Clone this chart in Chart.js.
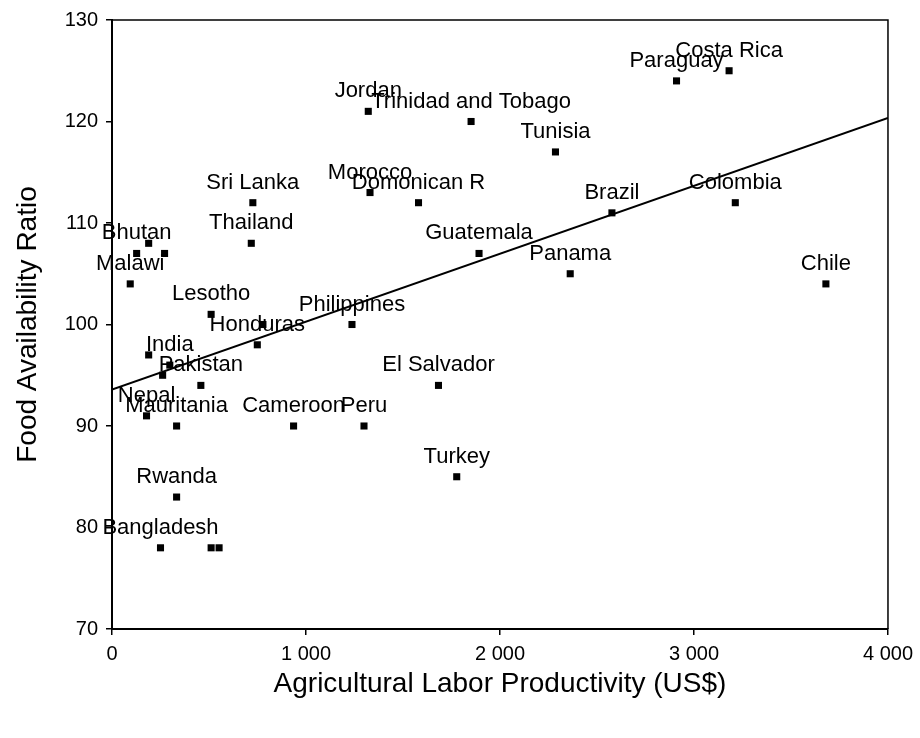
<!DOCTYPE html>
<html>
<head>
<meta charset="utf-8">
<script src="https://cdn.jsdelivr.net/npm/chart.js@4.4.1/dist/chart.umd.min.js"></script>
<style>
  html, body { margin: 0; padding: 0; background: #fff; }
  #wrap { width: 920px; height: 738px; position: relative; }
</style>
</head>
<body>
<div id="wrap"><canvas id="scatterChart"></canvas></div>
<script>
// country labels ('' = unlabelled point)
const countries = [
    'Bhutan', '', '', 'Malawi', 'Sri Lanka', 'Thailand', 'Lesotho', '', 'Honduras',
    'Philippines', '', 'India', '', 'Pakistan', 'Nepal', 'Mauritania', 'Cameroon',
    'Peru', 'Rwanda', 'Bangladesh', '', '', 'Jordan', 'Trinidad and Tobago',
    'Tunisia', 'Morocco', 'Domonican R', 'Guatemala', 'Brazil', 'Panama',
    'El Salvador', 'Turkey', 'Paraguay', 'Costa Rica', 'Colombia', 'Chile'
];
const productivity = [
    127, 189, 271, 94, 726, 718, 511, 778, 749,
    1237, 189, 298, 261, 458, 178, 333, 936,
    1299, 333, 250, 511, 552, 1321, 1851,
    2286, 1330, 1580, 1892, 2577, 2362,
    1683, 1777, 2910, 3181, 3213, 3680
];
const foodRatio = [
    107, 108, 107, 104, 112, 108, 101, 100, 98,
    100, 97, 96, 95, 94, 91, 90, 90,
    90, 83, 78, 78, 78, 121, 120,
    117, 113, 112, 107, 111, 105,
    94, 85, 124, 125, 112, 104
];
// linear trend line end points
const trendX = [0, 4000];
const trendY = [93.6, 120.35];

const xTicks = [0, 1000, 2000, 3000, 4000];
const yTicks = [70, 80, 90, 100, 110, 120, 130];

const FONT = '"Liberation Sans", Arial, sans-serif';

const pointLabels = {
    id: 'pointLabels',
    afterDatasetsDraw(chart) {
        const ctx = chart.ctx;
        const meta = chart.getDatasetMeta(0);
        ctx.save();
        ctx.font = '22px ' + FONT;
        ctx.fillStyle = '#000';
        ctx.textAlign = 'center';
        ctx.textBaseline = 'alphabetic';
        meta.data.forEach((pt, i) => {
            if (countries[i]) ctx.fillText(countries[i], pt.x, pt.y - 14);
        });
        ctx.restore();
    }
};

const frame = {
    id: 'frame',
    afterDraw(chart) {
        const a = chart.chartArea;
        const ctx = chart.ctx;
        ctx.save();
        ctx.strokeStyle = '#000';
        ctx.lineWidth = 1.5;
        ctx.beginPath();
        ctx.moveTo(a.left, a.top);
        ctx.lineTo(a.right, a.top);
        ctx.lineTo(a.right, a.bottom);
        ctx.stroke();
        ctx.restore();
    }
};

const ctx = document.getElementById('scatterChart').getContext('2d');

const scatterChart = new Chart(ctx, {
    type: 'scatter',
    data: {
        datasets: [
            {
                label: 'Countries',
                data: productivity.map((x, i) => ({ x: x, y: foodRatio[i] })),
                pointStyle: 'rect',
                pointRadius: 5,
                pointBackgroundColor: '#000',
                pointBorderWidth: 0
            },
            {
                type: 'line',
                label: 'Trend',
                data: trendX.map((x, i) => ({ x: x, y: trendY[i] })),
                borderColor: '#000',
                borderWidth: 2,
                pointRadius: 0,
                fill: false,
                tension: 0
            }
        ]
    },
    options: {
        responsive: true,
        maintainAspectRatio: false,
        animation: false,
        layout: {
            padding: { top: 19, right: 30, left: 0, bottom: 0 }
        },
        plugins: {
            legend: { display: false },
            tooltip: { enabled: false }
        },
        scales: {
            x: {
                type: 'linear',
                min: 0,
                max: 4000,
                afterFit: (s) => { s.height = 109; },
                afterBuildTicks: (s) => { s.ticks = xTicks.map(v => ({ value: v })); },
                ticks: {
                    color: '#000',
                    padding: 7,
                    font: { family: FONT, size: 20 },
                    callback: (v) => String(v).replace(/\B(?=(\d{3})+(?!\d))/g, ' ')
                },
                grid: {
                    drawOnChartArea: false,
                    drawTicks: true,
                    tickLength: 6,
                    color: '#000',
                    lineWidth: 1.5
                },
                border: { display: true, color: '#000', width: 2 },
                title: {
                    display: true,
                    text: 'Agricultural Labor Productivity (US$)',
                    color: '#000',
                    font: { family: FONT, size: 28 },
                    padding: { top: 0, bottom: 37 }
                }
            },
            y: {
                type: 'linear',
                min: 70,
                max: 130,
                afterFit: (s) => { s.width = 112; },
                afterBuildTicks: (s) => { s.ticks = yTicks.map(v => ({ value: v })); },
                ticks: {
                    color: '#000',
                    padding: 8,
                    font: { family: FONT, size: 20 }
                },
                grid: {
                    drawOnChartArea: false,
                    drawTicks: true,
                    tickLength: 6,
                    color: '#000',
                    lineWidth: 1.5
                },
                border: { display: true, color: '#000', width: 2 },
                title: {
                    display: true,
                    text: 'Food Availability Ratio',
                    color: '#000',
                    font: { family: FONT, size: 28 },
                    padding: { top: 11, bottom: 0 }
                }
            }
        }
    },
    plugins: [pointLabels, frame]
});
</script>
</body>
</html>
